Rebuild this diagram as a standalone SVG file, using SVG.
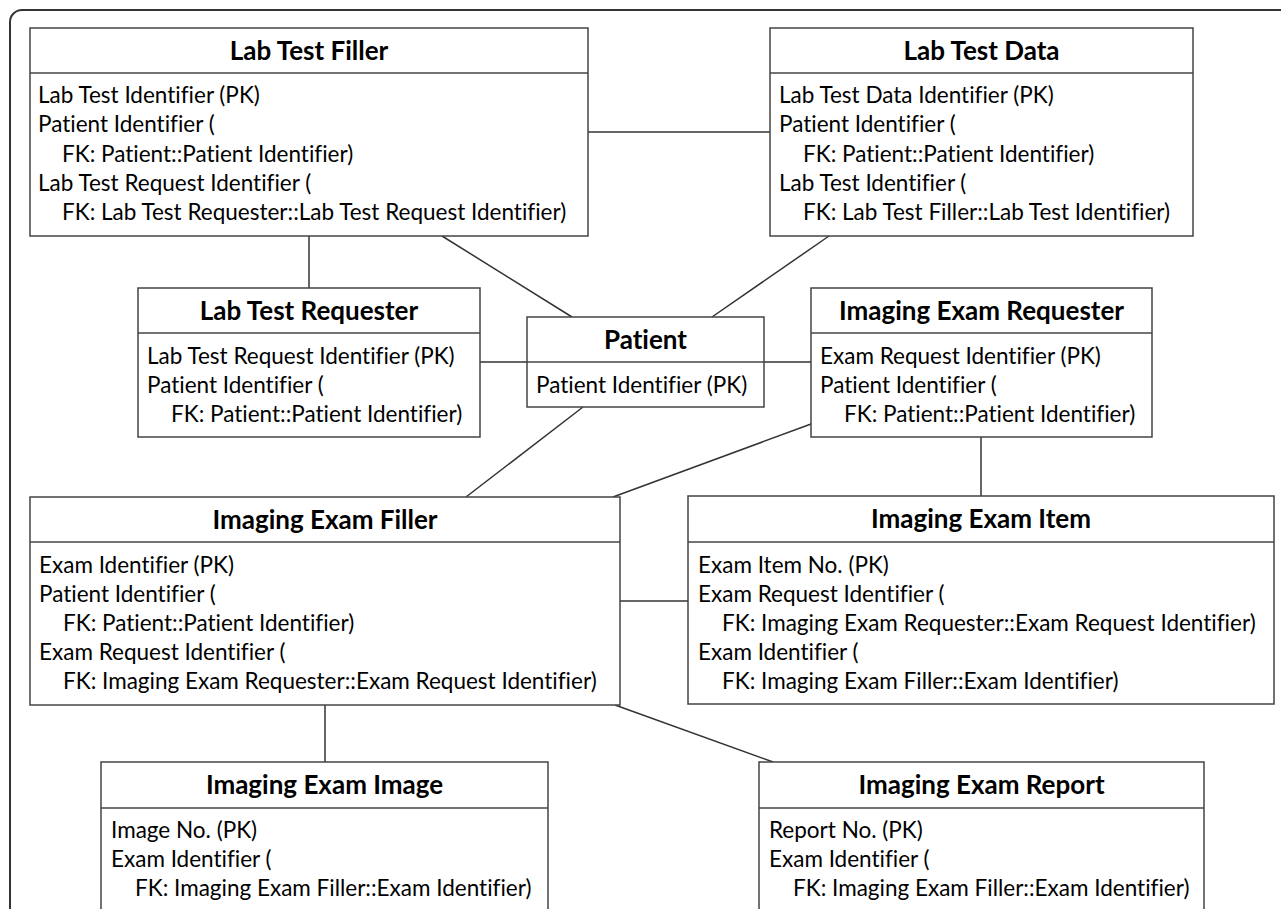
<svg xmlns="http://www.w3.org/2000/svg" width="1281" height="909" viewBox="0 0 1281 909">
<style>
.frame{fill:none;stroke:#333;stroke-width:2}
.box{fill:#fff;stroke:#444;stroke-width:1.5}
.div{stroke:#444;stroke-width:1.5}
.con{stroke:#333;stroke-width:1.5;fill:none}
.t{font-family:Lato,"Open Sans",sans-serif;font-weight:bold;font-size:26px;fill:#000;text-anchor:middle;font-variant-ligatures:none}
.b{font-family:Lato,"Open Sans",sans-serif;font-size:22.5px;fill:#000;font-variant-ligatures:none}
</style>
<rect width="1281" height="909" fill="#fff"/>
<rect class="frame" x="10" y="10" width="1300" height="960" rx="12"/>
<g id="connectors">
<line class="con" x1="588" y1="132" x2="770" y2="132"/>
<line class="con" x1="309" y1="236" x2="309" y2="288"/>
<line class="con" x1="442" y1="236" x2="572" y2="317"/>
<line class="con" x1="829" y1="236" x2="712" y2="317"/>
<line class="con" x1="480" y1="362" x2="527" y2="362"/>
<line class="con" x1="764" y1="362" x2="811" y2="362"/>
<line class="con" x1="583" y1="407" x2="466" y2="497"/>
<line class="con" x1="811" y1="424" x2="613" y2="497"/>
<line class="con" x1="981" y1="437" x2="981" y2="496"/>
<line class="con" x1="620" y1="601" x2="688" y2="601"/>
<line class="con" x1="325" y1="704" x2="325" y2="762"/>
<line class="con" x1="615" y1="705" x2="773" y2="762"/>
</g>
<g id="lab-test-filler">
<rect class="box" x="30" y="28" width="558" height="208"/>
<line class="div" x1="30" y1="73" x2="588" y2="73"/>
<text class="t" x="309" y="60">Lab Test Filler</text>
<text class="b" x="38" y="103">Lab Test Identifier (PK)</text>
<text class="b" x="38" y="132">Patient Identifier (</text>
<text class="b" x="62" y="161.5">FK: Patient::Patient Identifier)</text>
<text class="b" x="38" y="190.5">Lab Test Request Identifier (</text>
<text class="b" x="62" y="220">FK: Lab Test Requester::Lab Test Request Identifier)</text>
</g>
<g id="lab-test-data">
<rect class="box" x="770" y="28" width="423" height="208"/>
<line class="div" x1="770" y1="73" x2="1193" y2="73"/>
<text class="t" x="981.5" y="60">Lab Test Data</text>
<text class="b" x="779" y="103">Lab Test Data Identifier (PK)</text>
<text class="b" x="779" y="132">Patient Identifier (</text>
<text class="b" x="803" y="161.5">FK: Patient::Patient Identifier)</text>
<text class="b" x="779" y="190.5">Lab Test Identifier (</text>
<text class="b" x="803" y="220">FK: Lab Test Filler::Lab Test Identifier)</text>
</g>
<g id="lab-test-requester">
<rect class="box" x="138" y="288" width="342" height="149"/>
<line class="div" x1="138" y1="333" x2="480" y2="333"/>
<text class="t" x="309" y="320">Lab Test Requester</text>
<text class="b" x="147" y="364">Lab Test Request Identifier (PK)</text>
<text class="b" x="147" y="393">Patient Identifier (</text>
<text class="b" x="171" y="422">FK: Patient::Patient Identifier)</text>
</g>
<g id="patient">
<rect class="box" x="527" y="317" width="237" height="90"/>
<line class="div" x1="527" y1="362" x2="764" y2="362"/>
<text class="t" x="645.5" y="349">Patient</text>
<text class="b" x="536" y="393">Patient Identifier (PK)</text>
</g>
<g id="imaging-exam-requester">
<rect class="box" x="811" y="288" width="341" height="149"/>
<line class="div" x1="811" y1="333" x2="1152" y2="333"/>
<text class="t" x="981.5" y="320">Imaging Exam Requester</text>
<text class="b" x="820" y="364">Exam Request Identifier (PK)</text>
<text class="b" x="820" y="393">Patient Identifier (</text>
<text class="b" x="844" y="422">FK: Patient::Patient Identifier)</text>
</g>
<g id="imaging-exam-filler">
<rect class="box" x="30" y="497" width="590" height="208"/>
<line class="div" x1="30" y1="542" x2="620" y2="542"/>
<text class="t" x="325" y="529">Imaging Exam Filler</text>
<text class="b" x="39" y="573">Exam Identifier (PK)</text>
<text class="b" x="39" y="602">Patient Identifier (</text>
<text class="b" x="63" y="631">FK: Patient::Patient Identifier)</text>
<text class="b" x="39" y="660">Exam Request Identifier (</text>
<text class="b" x="63" y="689">FK: Imaging Exam Requester::Exam Request Identifier)</text>
</g>
<g id="imaging-exam-item">
<rect class="box" x="688" y="496" width="586" height="208"/>
<line class="div" x1="688" y1="542" x2="1274" y2="542"/>
<text class="t" x="981" y="528">Imaging Exam Item</text>
<text class="b" x="698" y="573">Exam Item No. (PK)</text>
<text class="b" x="698" y="602">Exam Request Identifier (</text>
<text class="b" x="722" y="631">FK: Imaging Exam Requester::Exam Request Identifier)</text>
<text class="b" x="698" y="660">Exam Identifier (</text>
<text class="b" x="722" y="689">FK: Imaging Exam Filler::Exam Identifier)</text>
</g>
<g id="imaging-exam-image">
<rect class="box" x="101" y="762" width="447" height="200"/>
<line class="div" x1="101" y1="808" x2="548" y2="808"/>
<text class="t" x="324.5" y="794">Imaging Exam Image</text>
<text class="b" x="111" y="838">Image No. (PK)</text>
<text class="b" x="111" y="867">Exam Identifier (</text>
<text class="b" x="135" y="896">FK: Imaging Exam Filler::Exam Identifier)</text>
</g>
<g id="imaging-exam-report">
<rect class="box" x="759" y="762" width="445" height="200"/>
<line class="div" x1="759" y1="808" x2="1204" y2="808"/>
<text class="t" x="981.5" y="794">Imaging Exam Report</text>
<text class="b" x="769" y="838">Report No. (PK)</text>
<text class="b" x="769" y="867">Exam Identifier (</text>
<text class="b" x="793" y="896">FK: Imaging Exam Filler::Exam Identifier)</text>
</g>
</svg>
